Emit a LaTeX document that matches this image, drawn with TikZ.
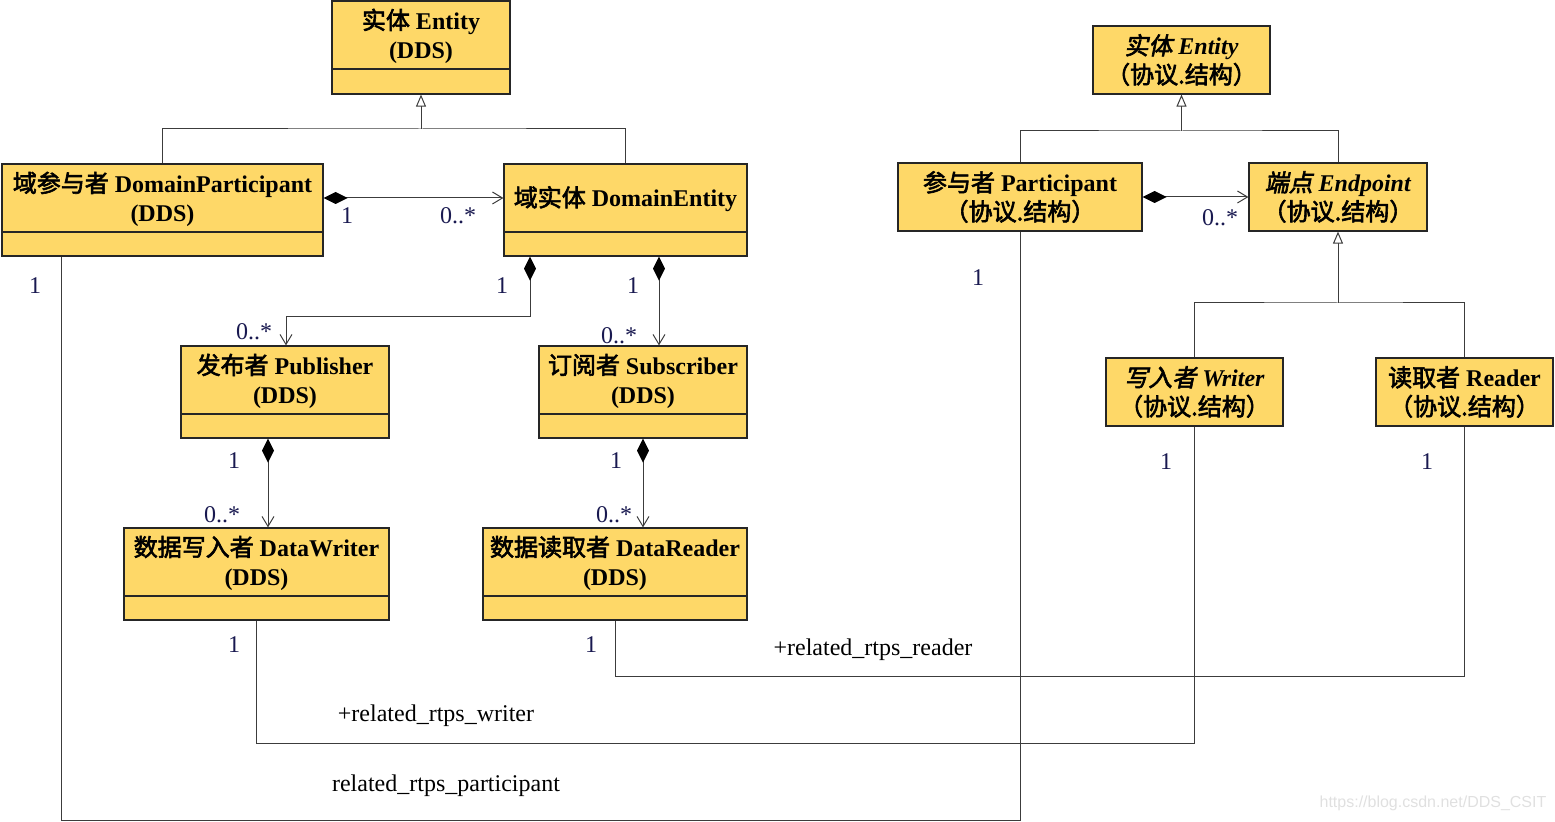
\documentclass[tikz,border=0pt]{standalone}
\usepackage{fontspec}
\setmainfont{Liberation Serif}
\newfontfamily\cjk{Noto Sans CJK SC}[BoldFont={*},BoldFeatures={FakeBold=2.5}]
\newfontfamily\cjkit{Noto Sans CJK SC}[FakeSlant=0.2,BoldFont={*},BoldFeatures={FakeBold=2.5,FakeSlant=0.2}]
\newfontfamily\wmfont{Liberation Sans}
\usetikzlibrary{arrows.meta,fit}
\newcommand\zh[1]{{\cjk #1}}
\newcommand\zhit[1]{{\cjkit #1}}
\newcommand\xy{（协议.结构）}
\definecolor{boxfill}{RGB}{254,216,104}
\definecolor{multc}{RGB}{25,25,80}
\definecolor{connc}{RGB}{60,60,60}
\tikzset{
  umlbox/.style={draw=black!85, line width=0.6pt, fill=boxfill, inner sep=0pt},
  sepline/.style={draw=black!85, line width=0.6pt},
  title/.style={font=\fontsize{12}{14.5}\selectfont\bfseries, align=center, inner sep=0pt},
  conn/.style={draw=connc, line width=0.5pt},
  gen/.style={conn, -{Triangle[open,length=6pt,width=5pt,fill=white]}},
  comp/.style={conn, {Diamond[length=12pt,width=6pt,fill=black,color=black]}-{Straight Barb[length=5pt,width=6pt]}},
  multl/.style={font=\fontsize{12}{13}\selectfont, text=multc, inner sep=0pt},
  role/.style={font=\fontsize{12}{13}\selectfont, inner sep=0pt},
}
\begin{document}
\begin{tikzpicture}[x=0.5pt,y=-0.5pt]
\useasboundingbox (0,0) rectangle (1555,822);

% ---- boxes ----
\node[umlbox, fit={(332,1) (510,94)}] (e1) {};
\draw[sepline] (e1.west |- 0,69) -- (e1.east |- 0,69);
\node[title] (t-e1) at (421,36) {\zh{实体} Entity\\(DDS)};

\node[umlbox, fit={(2,164) (323,256)}] (dp) {};
\draw[sepline] (dp.west |- 0,232) -- (dp.east |- 0,232);
\node[title] (t-dp) at (162.5,199) {\zh{域参与者} DomainParticipant\\(DDS)};

\node[umlbox, fit={(504,164) (747,256)}] (de) {};
\draw[sepline] (de.west |- 0,232) -- (de.east |- 0,232);
\node[title] (t-de) at (625.5,199) {\zh{域实体} DomainEntity};

\node[umlbox, fit={(181,346) (389,438)}] (pub) {};
\draw[sepline] (pub.west |- 0,414) -- (pub.east |- 0,414);
\node[title] (t-pub) at (285,381) {\zh{发布者} Publisher\\(DDS)};

\node[umlbox, fit={(539,346) (747,438)}] (sub) {};
\draw[sepline] (sub.west |- 0,414) -- (sub.east |- 0,414);
\node[title] (t-sub) at (643,381) {\zh{订阅者} Subscriber\\(DDS)};

\node[umlbox, fit={(124,528) (389,620)}] (dw) {};
\draw[sepline] (dw.west |- 0,596) -- (dw.east |- 0,596);
\node[title] (t-dw) at (256.5,563) {\zh{数据写入者} DataWriter\\(DDS)};

\node[umlbox, fit={(483,528) (747,620)}] (dr) {};
\draw[sepline] (dr.west |- 0,596) -- (dr.east |- 0,596);
\node[title] (t-dr) at (615,563) {\zh{数据读取者} DataReader\\(DDS)};

\node[umlbox, fit={(1093,26) (1270,94)}] (e2) {};
\node[title] (t-e2) at (1181.5,60) {\zhit{实体} \textit{Entity}\\\zh{\xy}};

\node[umlbox, fit={(898,163) (1142,231)}] (part) {};
\node[title] (t-part) at (1020,197) {\zh{参与者} Participant\\\zh{\xy}};

\node[umlbox, fit={(1249,163) (1427,231)}] (endp) {};
\node[title] (t-endp) at (1338,197) {\zhit{端点} \textit{Endpoint}\\\zh{\xy}};

\node[umlbox, fit={(1106,358) (1283,426)}] (wr) {};
\node[title] (t-wr) at (1194.5,392) {\zhit{写入者} \textit{Writer}\\\zh{\xy}};

\node[umlbox, fit={(1376,358) (1553,426)}] (rd) {};
\node[title] (t-rd) at (1464.5,392) {\zh{读取者} Reader\\\zh{\xy}};

% ---- generalizations ----
\coordinate (j1) at (421,129);
\draw[conn] (dp.north) |- (j1) -| (de.north);
\draw[gen] (j1) -- (e1.south);

\coordinate (j2) at (1181.5,131);
\draw[conn] (part.north) |- (j2) -| (endp.north);
\draw[gen] (j2) -- (e2.south);

\coordinate (j3) at (1338,303);
\draw[conn] (wr.north) |- (j3) -| (rd.north);
\draw[gen] (j3) -- (endp.south);

% ---- compositions ----
\draw[comp] (dp.east |- 0,198) -- (de.west |- 0,198);
\draw[comp] (de.south -| 530,0) |- (286,317) -- (pub.north -| 286,0);
\draw[comp] (de.south -| 659,0) -- (sub.north -| 659,0);
\draw[comp] (pub.south -| 268,0) -- (dw.north -| 268,0);
\draw[comp] (sub.south) -- (sub.south |- dr.north);
\draw[comp] (part.east |- 0,197) -- (endp.west |- 0,197);

% ---- associations ----
\draw[conn] (dw.south) -- (dw.south |- 0,744) -| (wr.south);
\draw[conn] (dr.south) -- (dr.south |- 0,677) -| (rd.south);
\draw[conn] (dp.south -| 61,0) -- (61,821) -| (part.south);

% ---- multiplicities ----
\node[multl] (m1) at (347,216) {1};
\node[multl] (m2) at (458,216) {0..*};
\node[multl] (m3) at (502,286) {1};
\node[multl] (m4) at (254,332) {0..*};
\node[multl] (m5) at (633,286) {1};
\node[multl] (m6) at (619,336) {0..*};
\node[multl] (m7) at (234,461) {1};
\node[multl] (m8) at (222,515) {0..*};
\node[multl] (m9) at (616,461) {1};
\node[multl] (m10) at (614,515) {0..*};
\node[multl] (m11) at (1220,218) {0..*};
\node[multl] (m12) at (35,286) {1};
\node[multl] (m13) at (978,278) {1};
\node[multl] (m14) at (1166,462) {1};
\node[multl] (m15) at (1427,462) {1};
\node[multl] (m16) at (234,645) {1};
\node[multl] (m17) at (591,645) {1};

% ---- role names ----
\node[role] (r1) at (873,650) {+related\_rtps\_reader};
\node[role] (r2) at (436,716) {+related\_rtps\_writer};
\node[role] (r3) at (446,786) {related\_rtps\_participant};

% ---- watermark ----
\node[font=\wmfont\fontsize{8}{9}\selectfont, text=black!12, inner sep=0pt] (wm) at (1433,803) {https://blog.csdn.net/DDS\_CSIT};
\end{tikzpicture}
\end{document}
